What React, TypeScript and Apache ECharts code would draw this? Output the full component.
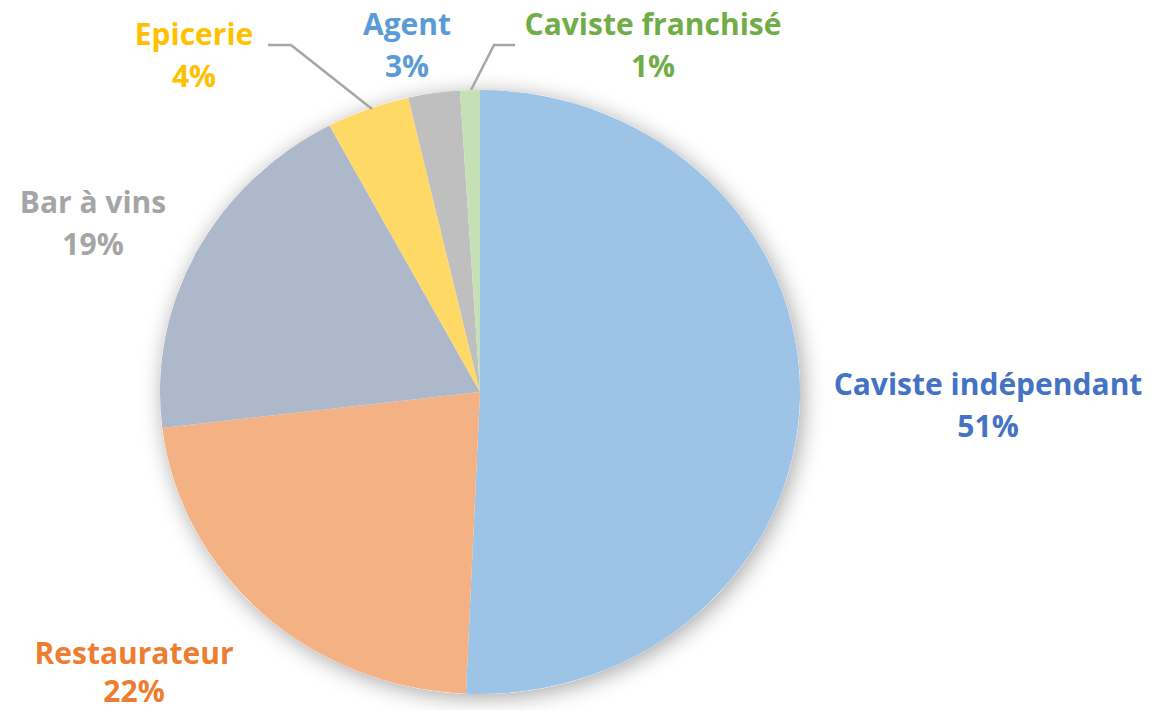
import React, { useEffect, useRef } from "react";
import * as echarts from "echarts";

const categories = [
  "Caviste indépendant",
  "Restaurateur",
  "Bar à vins",
  "Epicerie",
  "Agent",
  "Caviste franchisé",
];
const values = [50.7, 22.4, 19.1, 4.2, 2.6, 1.0];
const sliceColors = ["#9DC3E6", "#F4B183", "#ADB9CA", "#FFD966", "#BFBFBF", "#C5E0B4"];
const labelColors = ["#4472C4", "#ED7D31", "#A5A5A5", "#FFC000", "#5B9BD5", "#70AD47"];

// label anchor positions (centre of label block) and optional leader lines
const labelPos: [number, number][] = [
  [988, 404],
  [134, 671],
  [93, 222],
  [194, 54],
  [407, 44],
  [653, 44],
];
const labelLineHeights = [42, 38, 42, 42, 42, 42];
const leaderLines: (number[][] | null)[] = [
  null,
  null,
  null,
  [[268, 45], [291, 45], [372, 109]],
  null,
  [[515, 45], [494, 45], [471, 90]],
];

const CX = 480;
const CY = 392;
const RX = 320;
const RY = 302;

export default function App() {
  const pieRef = useRef<HTMLDivElement>(null);
  const labelRef = useRef<HTMLDivElement>(null);
  useEffect(() => {
    document.body.style.margin = "0";
    if (!pieRef.current || !labelRef.current) return;
    const pie = echarts.init(pieRef.current, undefined, { renderer: "svg" });
    const labels = echarts.init(labelRef.current, undefined, { renderer: "svg" });
    const data = categories.map((name, i) => ({ name, value: values[i] }));

    // slices (drawn as a circle of radius RX, squeezed vertically to the ellipse)
    pie.setOption({
      animation: false,
      series: [
        {
          type: "pie",
          silent: true,
          center: [CX, CY],
          radius: RX,
          z: 1,
          label: { show: false },
          labelLine: { show: false },
          data: [
            {
              value: 1,
              itemStyle: {
                color: "#ffffff",
                shadowBlur: 22,
                shadowColor: "rgba(0,0,0,0.35)",
                shadowOffsetX: 3,
                shadowOffsetY: 4,
              },
            },
          ],
        },
        {
          type: "pie",
          silent: true,
          center: [CX, CY],
          radius: RX,
          z: 2,
          startAngle: 90,
          clockwise: true,
          itemStyle: { borderWidth: 0 },
          label: { show: false },
          labelLine: { show: false },
          data: data.map((d, i) => ({ ...d, itemStyle: { color: sliceColors[i] } })),
        },
      ],
    });

    // labels of the same data, on an overlay
    labels.setOption({
      animation: false,
      series: [
        {
          type: "pie",
          silent: true,
          center: [CX, CY],
          radius: RY,
          startAngle: 90,
          clockwise: true,
          avoidLabelOverlap: false,
          itemStyle: { color: "rgba(0,0,0,0)", borderWidth: 0 },
          label: {
            show: true,
            fontFamily: "Open Sans",
            fontWeight: "bold",
            fontSize: 30,
            lineHeight: 42,
            align: "center",
            formatter: (p: any) => `${p.name}\n${Math.round(p.percent)}%`,
          },
          labelLine: { show: false, lineStyle: { color: "#A6A6A6", width: 2.5 } },
          labelLayout: (p: any) => {
            const i = p.dataIndex;
            const res: any = {
              x: labelPos[i][0],
              y: labelPos[i][1],
              align: "center",
              verticalAlign: "middle",
            };
            if (leaderLines[i]) res.labelLinePoints = leaderLines[i];
            return res;
          },
          data: data.map((d, i) => ({
            ...d,
            label: { color: labelColors[i], lineHeight: labelLineHeights[i] },
            labelLine: { show: !!leaderLines[i] },
          })),
        },
      ],
    });
    return () => {
      pie.dispose();
      labels.dispose();
    };
  }, []);
  return (
    <div style={{ position: "relative", width: 1151, height: 710, background: "#ffffff", overflow: "hidden" }}>
      <div
        ref={pieRef}
        style={{
          position: "absolute",
          left: 0,
          top: 0,
          width: 1151,
          height: 800,
          transform: `scaleY(${RY / RX})`,
          transformOrigin: `${CX}px ${CY}px`,
        }}
      />
      <div ref={labelRef} style={{ position: "absolute", left: 0, top: 0, width: 1151, height: 710 }} />
    </div>
  );
}
